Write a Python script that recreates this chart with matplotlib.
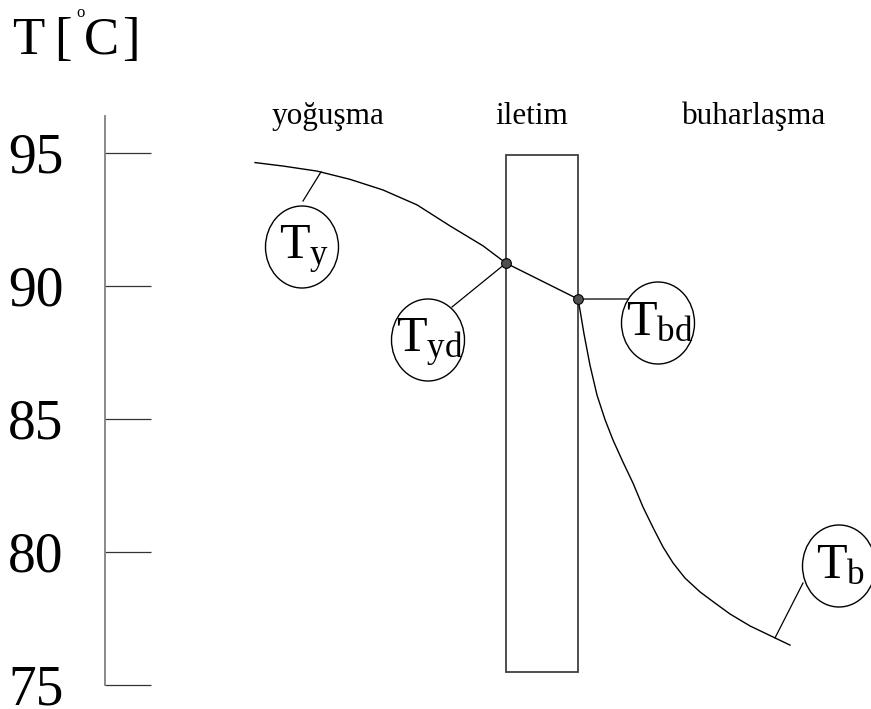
"""
Temperature profile across a heat-transfer wall: condensation / conduction / evaporation
"""

import matplotlib
matplotlib.use("Agg")

import matplotlib.pyplot as plt
from matplotlib.patches import Ellipse, Rectangle

plt.rcParams["font.family"] = ["Liberation Serif", "DejaVu Serif"]
plt.rcParams["mathtext.fontset"] = "custom"
plt.rcParams["mathtext.rm"] = "Liberation Serif"
plt.rcParams["mathtext.it"] = "Liberation Serif:italic"

# ─────────────────────────────────────────────
# DATA  (x = position, T = temperature in °C)
# ─────────────────────────────────────────────

TICKS   = [75, 80, 85, 90, 95]
REGIONS = ["yoğuşma", "iletim", "buharlaşma"]
LABELS  = ["y", "yd", "bd", "b"]

# condensing side
COND_X = [255, 283, 317, 350, 383, 417, 450, 483, 506]
COND_T = [94.64, 94.51, 94.32, 94.01, 93.61, 93.05, 92.26, 91.51, 90.86]

# wall surfaces (T_yd, T_bd)
WALL_X = [506, 578]
WALL_T = [90.86, 89.51]

# evaporating side
EVAP_X = [578, 580, 584, 590, 597, 605, 613, 623, 633, 643, 653, 663,
          673, 685, 700, 715, 730, 750, 775, 790]
EVAP_T = [89.51, 89.10, 88.20, 87.02, 85.90, 84.98, 84.21, 83.38, 82.59, 81.69,
          80.92, 80.19, 79.59, 79.02, 78.50, 78.08, 77.67, 77.22, 76.77, 76.50]

# ─────────────────────────────────────────────
# LAYOUT
# ─────────────────────────────────────────────

W, H       = 871, 709
PX_PER_DEG = 26.6
Y95        = 153          # pixel row of the 95 tick


def deg(py):
    """pixel row -> temperature"""
    return 95 + (Y95 - py) / PX_PER_DEG


fig = plt.figure(figsize=(W / 100, H / 100), dpi=100)
ax = fig.add_axes([0, 0, 1, 1])
ax.set_xlim(0, W)
ax.set_ylim(deg(H), deg(0))
ax.patch.set_visible(False)

for side in ["top", "right", "bottom"]:
    ax.spines[side].set_visible(False)
ax.spines["left"].set_position(("data", 105))
ax.spines["left"].set_bounds(TICKS[0], deg(116))
ax.spines["left"].set_color("#808080")
ax.spines["left"].set_linewidth(1.3)
ax.set_xticks([])
ax.set_yticks(TICKS)
ax.tick_params(axis="y", direction="in", length=33, width=0.9,
               color="#333333", pad=30, labelsize=40)

# wall
ax.add_patch(Rectangle((WALL_X[0], deg(672)), WALL_X[1] - WALL_X[0],
                       deg(155) - deg(672), fill=False, ec="#404040", lw=1.3))

# temperature profile
ax.plot(COND_X, COND_T, color="black", lw=1.0)
ax.plot(WALL_X, WALL_T, color="black", lw=1.0)
ax.plot(EVAP_X, EVAP_T, color="black", lw=1.0)
ax.plot(WALL_X, WALL_T, "o", ms=7, mfc="#505050", mec="black", mew=0.8, zorder=5)

# region headers
for name, xc in zip(REGIONS, [328, 532, 754]):
    ax.text(xc, deg(124), name, ha="center", va="baseline", fontsize=22.5)

# circled labels + leader lines
circles = [(302, 247), (428, 340), (658, 323), (839, 566)]
leader_from = [(303, 201), (452, 307), (628, 299), (803, 583)]
leader_to = [(321, 94.29), (WALL_X[0], WALL_T[0]), (WALL_X[1], WALL_T[1]), (775, 76.77)]

for sub, (cx, cy), (fx, fy), (tx, ty) in zip(LABELS, circles, leader_from, leader_to):
    ax.add_patch(Ellipse((cx, deg(cy)), 73, 82 / PX_PER_DEG,
                         fill=False, ec="black", lw=1.0, clip_on=False))
    ax.text(cx + 2, deg(cy + 12), r"$\mathrm{T}_\mathrm{%s}$" % sub,
            ha="center", va="baseline", fontsize=36)
    ax.plot([fx, tx], [deg(fy), ty], color="black", lw=0.9)

# axis title  T [°C]
def ftext(x, y, s, size):
    fig.text(x / W, 1 - y / H, s, fontsize=size, ha="left", va="baseline")

ftext(12, 54, "T", 38)
ftext(54, 54, "[", 38)
ftext(76, 17, "o", 12)
ftext(84, 54, "C", 38)
ftext(122, 54, "]", 38)

fig.savefig("out.png", dpi=100)
